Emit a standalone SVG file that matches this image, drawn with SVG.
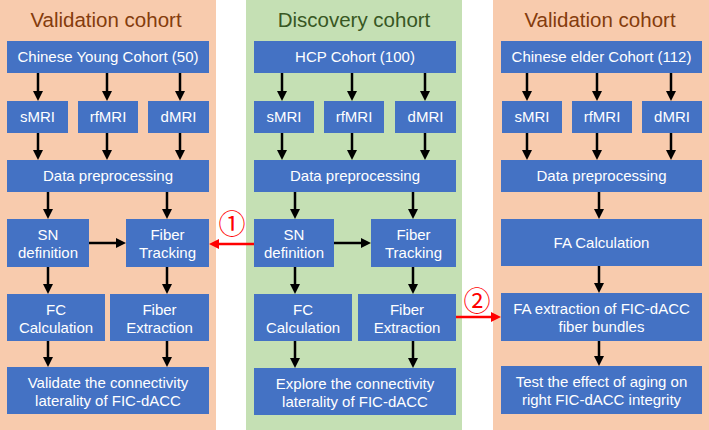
<svg xmlns="http://www.w3.org/2000/svg" width="709" height="430" viewBox="0 0 709 430">
<defs>
<style>
.bgo{fill:#F8CBAD}
.bgg{fill:#C5E0B4}
.box{fill:#4472C4}
.t{font-family:"Liberation Sans",Arial,sans-serif;font-size:15px;fill:#FFFFFF;text-anchor:middle}
.title{font-family:"Liberation Sans",Arial,sans-serif;font-size:20.5px;text-anchor:middle}
.tb{fill:#843C0C}
.tg{fill:#385723}
.num{font-family:"Noto Sans CJK SC","DejaVu Sans",sans-serif;font-size:27px;fill:#FF0000;text-anchor:middle}
.a{stroke:#000;stroke-width:2.5;fill:none;marker-end:url(#ah)}
.r{stroke:#FF0000;stroke-width:2.5;fill:none;marker-end:url(#rh)}
</style>
<marker id="ah" markerUnits="userSpaceOnUse" markerWidth="10" markerHeight="10" refX="0" refY="5" orient="auto" viewBox="0 0 10 10"><path d="M0,0 L10,5 L0,10 z" fill="#000"/></marker>
<marker id="rh" markerUnits="userSpaceOnUse" markerWidth="10" markerHeight="10" refX="0" refY="5" orient="auto" viewBox="0 0 10 10"><path d="M0,0 L10,5 L0,10 z" fill="#FF0000"/></marker>
</defs>
<rect width="709" height="430" fill="#FFFFFF"/>
<g id="panels">
<rect class="bgo" x="0" y="0" width="216" height="430"/>
<rect class="bgg" x="246" y="0" width="216" height="430"/>
<rect class="bgo" x="493" y="0" width="216" height="430"/>
<text class="title tb" x="106" y="27">Validation cohort</text>
<text class="title tg" x="354" y="27">Discovery cohort</text>
<text class="title tb" x="600" y="27">Validation cohort</text>
</g>
<g id="connectors">
<line class="a" x1="38" y1="73" x2="38" y2="91"/>
<line class="a" x1="107" y1="73" x2="107" y2="91"/>
<line class="a" x1="180" y1="73" x2="180" y2="91"/>
<line class="a" x1="38" y1="133" x2="38" y2="150"/>
<line class="a" x1="107" y1="133" x2="107" y2="150"/>
<line class="a" x1="180" y1="133" x2="180" y2="150"/>
<line class="a" x1="48" y1="192" x2="48" y2="209"/>
<line class="a" x1="167" y1="192" x2="167" y2="209"/>
<line class="a" x1="89" y1="243" x2="116" y2="243"/>
<line class="a" x1="48" y1="267" x2="48" y2="284"/>
<line class="a" x1="167" y1="267" x2="167" y2="284"/>
<line class="a" x1="48" y1="341" x2="48" y2="357"/>
<line class="a" x1="167" y1="341" x2="167" y2="357"/>
<line class="a" x1="282" y1="73" x2="282" y2="91"/>
<line class="a" x1="352" y1="73" x2="352" y2="91"/>
<line class="a" x1="425" y1="73" x2="425" y2="91"/>
<line class="a" x1="282" y1="133" x2="282" y2="150"/>
<line class="a" x1="352" y1="133" x2="352" y2="150"/>
<line class="a" x1="425" y1="133" x2="425" y2="150"/>
<line class="a" x1="295" y1="192" x2="295" y2="209"/>
<line class="a" x1="413" y1="192" x2="413" y2="209"/>
<line class="a" x1="334" y1="243" x2="361" y2="243"/>
<line class="a" x1="295" y1="267" x2="295" y2="284"/>
<line class="a" x1="413" y1="267" x2="413" y2="284"/>
<line class="a" x1="295" y1="341" x2="295" y2="358"/>
<line class="a" x1="413" y1="341" x2="413" y2="358"/>
<line class="a" x1="527" y1="73" x2="527" y2="91"/>
<line class="a" x1="597" y1="73" x2="597" y2="91"/>
<line class="a" x1="671" y1="73" x2="671" y2="91"/>
<line class="a" x1="527" y1="133" x2="527" y2="150"/>
<line class="a" x1="597" y1="133" x2="597" y2="150"/>
<line class="a" x1="671" y1="133" x2="671" y2="150"/>
<line class="a" x1="599" y1="192" x2="599" y2="209"/>
<line class="a" x1="599" y1="266" x2="599" y2="283"/>
<line class="a" x1="599" y1="341" x2="599" y2="356"/>
<line class="r" x1="254" y1="244" x2="219" y2="244"/>
<line class="r" x1="456" y1="317" x2="491" y2="317"/>
<text class="num" x="232" y="234">①</text>
<text class="num" x="477" y="311">②</text>
</g>
<g id="L_cohort"><rect class="box" x="7" y="41" width="202" height="32"/><text class="t" x="108" y="62">Chinese Young Cohort (50)</text></g>
<g id="L_smri"><rect class="box" x="7" y="101" width="61" height="32"/><text class="t" x="37.5" y="122">sMRI</text></g>
<g id="L_rfmri"><rect class="box" x="78" y="101" width="60" height="32"/><text class="t" x="108" y="122">rfMRI</text></g>
<g id="L_dmri"><rect class="box" x="148" y="101" width="61" height="32"/><text class="t" x="178.5" y="122">dMRI</text></g>
<g id="L_pre"><rect class="box" x="7" y="160" width="202" height="32"/><text class="t" x="108" y="181">Data preprocessing</text></g>
<g id="L_sn"><rect class="box" x="7" y="219" width="82" height="48"/><text class="t" x="48" y="240">SN</text><text class="t" x="48" y="258">definition</text></g>
<g id="L_ft"><rect class="box" x="126" y="219" width="83" height="48"/><text class="t" x="167.5" y="240">Fiber</text><text class="t" x="167.5" y="258">Tracking</text></g>
<g id="L_fc"><rect class="box" x="7" y="294" width="98" height="47"/><text class="t" x="56" y="315">FC</text><text class="t" x="56" y="333">Calculation</text></g>
<g id="L_fe"><rect class="box" x="110" y="294" width="99" height="47"/><text class="t" x="159.5" y="315">Fiber</text><text class="t" x="159.5" y="333">Extraction</text></g>
<g id="L_val"><rect class="box" x="7" y="367" width="202" height="47"/><text class="t" x="108" y="388">Validate the connectivity</text><text class="t" x="108" y="406">laterality of FIC-dACC</text></g>
<g id="M_cohort"><rect class="box" x="254" y="41" width="202" height="32"/><text class="t" x="355" y="62">HCP Cohort (100)</text></g>
<g id="M_smri"><rect class="box" x="254" y="101" width="60" height="32"/><text class="t" x="284" y="122">sMRI</text></g>
<g id="M_rfmri"><rect class="box" x="324" y="101" width="60" height="32"/><text class="t" x="354" y="122">rfMRI</text></g>
<g id="M_dmri"><rect class="box" x="395" y="101" width="61" height="32"/><text class="t" x="425.5" y="122">dMRI</text></g>
<g id="M_pre"><rect class="box" x="254" y="160" width="202" height="32"/><text class="t" x="355" y="181">Data preprocessing</text></g>
<g id="M_sn"><rect class="box" x="254" y="219" width="80" height="48"/><text class="t" x="294" y="240">SN</text><text class="t" x="294" y="258">definition</text></g>
<g id="M_ft"><rect class="box" x="371" y="219" width="85" height="48"/><text class="t" x="413.5" y="240">Fiber</text><text class="t" x="413.5" y="258">Tracking</text></g>
<g id="M_fc"><rect class="box" x="254" y="294" width="98" height="47"/><text class="t" x="303" y="315">FC</text><text class="t" x="303" y="333">Calculation</text></g>
<g id="M_fe"><rect class="box" x="358" y="294" width="98" height="47"/><text class="t" x="407" y="315">Fiber</text><text class="t" x="407" y="333">Extraction</text></g>
<g id="M_exp"><rect class="box" x="254" y="368" width="202" height="47"/><text class="t" x="355" y="389">Explore the connectivity</text><text class="t" x="355" y="407">laterality of FIC-dACC</text></g>
<g id="R_cohort"><rect class="box" x="501" y="41" width="201" height="32"/><text class="t" x="601.5" y="62">Chinese elder Cohort (112)</text></g>
<g id="R_smri"><rect class="box" x="502" y="101" width="60" height="32"/><text class="t" x="532" y="122">sMRI</text></g>
<g id="R_rfmri"><rect class="box" x="572" y="101" width="60" height="32"/><text class="t" x="602" y="122">rfMRI</text></g>
<g id="R_dmri"><rect class="box" x="642" y="101" width="60" height="32"/><text class="t" x="672" y="122">dMRI</text></g>
<g id="R_pre"><rect class="box" x="501" y="160" width="201" height="32"/><text class="t" x="601.5" y="181">Data preprocessing</text></g>
<g id="R_fa"><rect class="box" x="501" y="219" width="201" height="47"/><text class="t" x="601.5" y="248">FA Calculation</text></g>
<g id="R_faext"><rect class="box" x="501" y="293" width="201" height="48"/><text class="t" x="601.5" y="314">FA extraction of FIC-dACC</text><text class="t" x="601.5" y="332">fiber bundles</text></g>
<g id="R_test"><rect class="box" x="501" y="366" width="201" height="48"/><text class="t" x="601.5" y="387">Test the effect of aging on</text><text class="t" x="601.5" y="405">right FIC-dACC integrity</text></g>
</svg>
